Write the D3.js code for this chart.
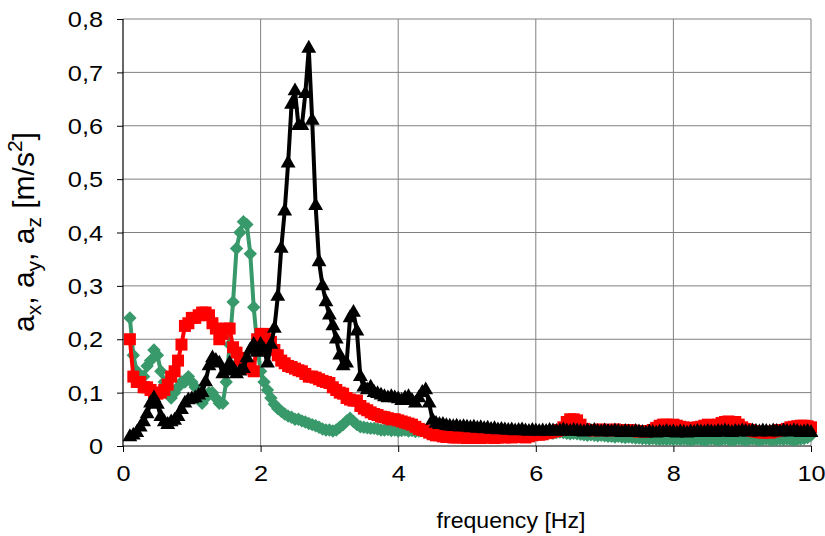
<!DOCTYPE html>
<html>
<head>
<meta charset="utf-8">
<script src="https://d3js.org/d3.v7.min.js"></script>
<style>
  body { margin: 0; background: white; }
  text { font-family: 'Liberation Sans', Arial, sans-serif; fill: black; }
</style>
</head>
<body>
<div id="container1"></div>
<script>
// frequency grid: 0.10 .. 10.00 Hz, step 0.05
const freqStart = 0.1;
const freqStep = 0.05;

// a_x (green, diamonds)
const axValues = [
  0.24, 0.17, 0.14, 0.12, 0.13, 0.15, 0.16, 0.18, 0.17, 0.14,
  0.12, 0.10, 0.09, 0.10, 0.11, 0.12, 0.12, 0.13, 0.12, 0.11,
  0.09, 0.08, 0.09, 0.10, 0.10, 0.09, 0.08, 0.08, 0.12, 0.19,
  0.27, 0.37, 0.40, 0.42, 0.415, 0.36, 0.26, 0.19, 0.14, 0.12,
  0.105, 0.09, 0.078, 0.07, 0.065, 0.06, 0.056, 0.054, 0.05, 0.05,
  0.047, 0.045, 0.042, 0.04, 0.038, 0.035, 0.032, 0.03, 0.03, 0.028,
  0.03, 0.035, 0.04, 0.047, 0.052, 0.046, 0.04, 0.036, 0.035, 0.034,
  0.033, 0.033, 0.032, 0.03, 0.03, 0.031, 0.029, 0.03, 0.028, 0.029,
  0.03, 0.028, 0.029, 0.027, 0.028, 0.03, 0.028, 0.027, 0.028, 0.026,
  0.027, 0.026, 0.025, 0.027, 0.026, 0.025, 0.026, 0.024, 0.025, 0.026,
  0.025, 0.024, 0.026, 0.025, 0.024, 0.025, 0.023, 0.024, 0.025, 0.024,
  0.023, 0.024, 0.025, 0.024, 0.023, 0.024, 0.025, 0.026, 0.025, 0.024,
  0.025, 0.026, 0.025, 0.024, 0.025, 0.026, 0.025, 0.024, 0.023, 0.024,
  0.023, 0.022, 0.021, 0.02, 0.021, 0.02, 0.019, 0.02, 0.019, 0.018,
  0.018, 0.017, 0.018, 0.017, 0.016, 0.017, 0.016, 0.015, 0.015, 0.014,
  0.014, 0.013, 0.014, 0.013, 0.012, 0.013, 0.012, 0.013, 0.012, 0.013,
  0.012, 0.013, 0.012, 0.011, 0.012, 0.013, 0.012, 0.011, 0.012, 0.013,
  0.012, 0.011, 0.012, 0.013, 0.012, 0.011, 0.012, 0.013, 0.012, 0.011,
  0.012, 0.013, 0.012, 0.011, 0.012, 0.013, 0.012, 0.011, 0.012, 0.013,
  0.012, 0.013, 0.012, 0.011, 0.012, 0.013, 0.014, 0.016, 0.02
];

// a_y (red, squares)
const ayValues = [
  0.20, 0.13, 0.12, 0.12, 0.11, 0.11, 0.105, 0.10, 0.098, 0.10,
  0.105, 0.115, 0.13, 0.14, 0.16, 0.19, 0.225, 0.23, 0.24, 0.24,
  0.245, 0.25, 0.25, 0.245, 0.23, 0.22, 0.20, 0.21, 0.22, 0.22,
  0.185, 0.175, 0.16, 0.165, 0.15, 0.145, 0.14, 0.20, 0.21, 0.21,
  0.20, 0.195, 0.18, 0.17, 0.16, 0.155, 0.15, 0.148, 0.145, 0.142,
  0.14, 0.135, 0.13, 0.13, 0.128, 0.125, 0.122, 0.12, 0.118, 0.11,
  0.105, 0.10, 0.098, 0.09, 0.087, 0.085, 0.085, 0.075, 0.07, 0.067,
  0.063, 0.06, 0.058, 0.055, 0.054, 0.052, 0.05, 0.05, 0.048, 0.046,
  0.044, 0.042, 0.04, 0.036, 0.032, 0.03, 0.028, 0.025, 0.022, 0.02,
  0.02, 0.018, 0.017, 0.017, 0.016, 0.016, 0.017, 0.016, 0.015, 0.016,
  0.015, 0.016, 0.015, 0.016, 0.017, 0.016, 0.015, 0.016, 0.017, 0.016,
  0.017, 0.016, 0.017, 0.018, 0.017, 0.016, 0.018, 0.02, 0.022, 0.021,
  0.022, 0.024, 0.025, 0.027, 0.028, 0.03, 0.035, 0.045, 0.05, 0.05,
  0.048, 0.04, 0.032, 0.03, 0.03, 0.029, 0.03, 0.031, 0.03, 0.029,
  0.03, 0.031, 0.03, 0.029, 0.028, 0.03, 0.029, 0.028, 0.027, 0.028,
  0.027, 0.028, 0.03, 0.034, 0.038, 0.04, 0.04, 0.038, 0.04, 0.038,
  0.036, 0.035, 0.033, 0.032, 0.034, 0.035, 0.036, 0.038, 0.04, 0.038,
  0.038, 0.04, 0.043, 0.045, 0.046, 0.044, 0.045, 0.04, 0.035, 0.032,
  0.03, 0.028, 0.027, 0.026, 0.025, 0.026, 0.025, 0.027, 0.028, 0.03,
  0.03, 0.032, 0.035, 0.036, 0.037, 0.038, 0.038, 0.037, 0.035
];

// a_z (black, triangles)
const azValues = [
  0.017, 0.02, 0.025, 0.035, 0.045, 0.06, 0.08, 0.09, 0.078, 0.055,
  0.045, 0.04, 0.045, 0.048, 0.055, 0.068, 0.08, 0.086, 0.088, 0.09,
  0.095, 0.10, 0.12, 0.15, 0.165, 0.16, 0.155, 0.135, 0.14, 0.155,
  0.145, 0.135, 0.14, 0.145, 0.165, 0.18, 0.19, 0.175, 0.19, 0.18,
  0.155, 0.19, 0.22, 0.28, 0.37, 0.44, 0.53, 0.64, 0.665, 0.60,
  0.60, 0.66, 0.745, 0.61, 0.45, 0.345, 0.30, 0.27, 0.245, 0.225,
  0.20, 0.17, 0.15, 0.155, 0.24, 0.25, 0.215, 0.13, 0.11, 0.105,
  0.11, 0.10, 0.098, 0.095, 0.092, 0.09, 0.092, 0.09, 0.088, 0.085,
  0.09, 0.092, 0.085, 0.08, 0.09, 0.10, 0.105, 0.08, 0.048, 0.042,
  0.04, 0.04, 0.038, 0.037, 0.036, 0.037, 0.035, 0.036, 0.035, 0.034,
  0.035, 0.033, 0.034, 0.032, 0.033, 0.031, 0.032, 0.03, 0.031, 0.03,
  0.029, 0.03, 0.028, 0.029, 0.03, 0.028, 0.027, 0.029, 0.028, 0.027,
  0.028, 0.027, 0.029, 0.028, 0.027, 0.028, 0.03, 0.028, 0.027, 0.029,
  0.028, 0.027, 0.026, 0.028, 0.027, 0.029, 0.027, 0.026, 0.028, 0.027,
  0.026, 0.028, 0.027, 0.025, 0.027, 0.026, 0.025, 0.027, 0.026, 0.025,
  0.024, 0.026, 0.025, 0.024, 0.026, 0.025, 0.027, 0.025, 0.026, 0.024,
  0.026, 0.025, 0.024, 0.026, 0.025, 0.027, 0.026, 0.025, 0.027, 0.026,
  0.025, 0.027, 0.026, 0.028, 0.026, 0.025, 0.027, 0.026, 0.028, 0.027,
  0.026, 0.028, 0.027, 0.026, 0.028, 0.027, 0.026, 0.028, 0.027, 0.026,
  0.028, 0.027, 0.026, 0.028, 0.027, 0.025, 0.026, 0.027, 0.025
];

const xTicks = [0, 2, 4, 6, 8, 10];
const yTicks = [0, 0.1, 0.2, 0.3, 0.4, 0.5, 0.6, 0.7, 0.8];

const maxWidth = 825;
const maxHeight = 536;
const plotLeft = 123, plotRight = 811, plotTop = 19, plotBottom = 446;
const stretch = 1.15; // labels in the picture are a bit wide

const xScale = d3.scaleLinear().domain([0, 10]).range([plotLeft, plotRight]);
const yScale = d3.scaleLinear().domain([0, 0.8]).range([plotBottom, plotTop]);

const svg = d3.select('div#container1')
    .append('svg')
    .attr('width', maxWidth)
    .attr('height', maxHeight)
    .style('background-color', 'white');

/// GRID ///
let grid = svg.append('g');
grid.selectAll('.hgrid')
    .data(yTicks.slice(1))
    .enter()
    .append('line')
    .attr('x1', plotLeft).attr('x2', plotRight)
    .attr('y1', d => yScale(d)).attr('y2', d => yScale(d))
    .style('stroke', '#808080')
    .style('stroke-width', 1);
grid.selectAll('.vgrid')
    .data(xTicks.slice(1))
    .enter()
    .append('line')
    .attr('x1', d => xScale(d)).attr('x2', d => xScale(d))
    .attr('y1', plotTop).attr('y2', plotBottom)
    .style('stroke', '#808080')
    .style('stroke-width', 1);

/// AXES ///
const yAxis = svg.append('g')
    .attr('transform', `translate(${plotLeft},0)`)
    .call(d3.axisLeft(yScale).tickValues(yTicks).tickSize(6)
        .tickFormat(d => d === 0 ? '0' : d3.format('.1f')(d).replace('.', ',')));
const xAxis = svg.append('g')
    .attr('transform', `translate(0,${plotBottom})`)
    .call(d3.axisBottom(xScale).tickValues(xTicks).tickSize(6)
        .tickFormat(d3.format('d')));
[xAxis, yAxis].forEach(ax => {
    ax.select('.domain').attr('stroke', 'black').attr('stroke-width', 1.2);
    ax.selectAll('.tick line').attr('stroke', 'black');
    ax.selectAll('.tick text')
        .attr('font-family', "'Liberation Sans', Arial, sans-serif")
        .attr('font-size', '22px')
        .attr('fill', 'black')
        .attr('transform', `scale(${stretch},1)`);
});
yAxis.selectAll('.tick text').attr('x', -20 / stretch).attr('dy', '0.35em');
xAxis.selectAll('.tick text').attr('y', 35).attr('dy', 0);
xAxis.select('.domain').attr('d', `M${plotLeft},0H${plotRight}`);
yAxis.select('.domain').attr('d', `M0,${plotBottom}V${plotTop}`);

/// SERIES ///
const series = [
    {name: 'ax', values: axValues, color: '#38996a', symbol: d3.symbolSquare, size: 90, rotate: 45},
    {name: 'ay', values: ayValues, color: '#ff0000', symbol: d3.symbolSquare, size: 144, rotate: 0},
    {name: 'az', values: azValues, color: '#000000', symbol: d3.symbolTriangle, size: 95, rotate: 0}
];

const line = d3.line()
    .x(d => xScale(d.f))
    .y(d => yScale(d.v));

series.forEach(s => {
    const pts = s.values.map((v, i) => ({f: freqStart + i * freqStep, v: v}));
    let g = svg.append('g').classed(s.name, true);
    g.append('path')
        .datum(pts)
        .attr('d', line)
        .style('fill', 'none')
        .style('stroke', s.color)
        .style('stroke-width', 4)
        .style('stroke-linejoin', 'round');
    g.selectAll('path.marker')
        .data(pts)
        .enter()
        .append('path')
        .classed('marker', true)
        .attr('d', d3.symbol(s.symbol, s.size))
        .attr('transform', d => `translate(${xScale(d.f)},${yScale(d.v)}) rotate(${s.rotate})`)
        .style('fill', s.color);
});

/// TITLES ///
svg.append('text')
    .attr('transform', `translate(511,528) scale(1.05,1)`)
    .attr('text-anchor', 'middle')
    .attr('font-size', '22px')
    .text('frequency [Hz]');

let yTitle = svg.append('text')
    .attr('transform', 'translate(34,232) rotate(-90)')
    .attr('text-anchor', 'middle')
    .attr('font-size', '30px');
yTitle.append('tspan').text('a');
yTitle.append('tspan').attr('dy', 7).attr('font-size', '21px').text('x');
yTitle.append('tspan').attr('dy', -7).text(', a');
yTitle.append('tspan').attr('dy', 7).attr('font-size', '21px').text('y');
yTitle.append('tspan').attr('dy', -7).text(', a');
yTitle.append('tspan').attr('dy', 7).attr('font-size', '21px').text('z');
yTitle.append('tspan').attr('dy', -7).text(' [m/s');
yTitle.append('tspan').attr('dy', -12).attr('font-size', '21px').text('2');
yTitle.append('tspan').attr('dy', 12).text(']');
</script>
</body>
</html>
